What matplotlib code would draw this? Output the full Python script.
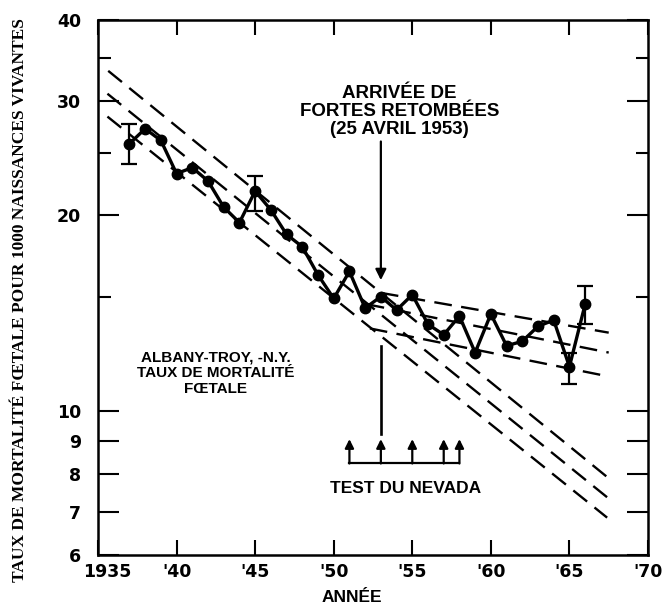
import matplotlib
matplotlib.use('Agg')
from matplotlib import pyplot as plt
from matplotlib.ticker import FixedLocator, NullFormatter, NullLocator
import matplotlib.transforms as mtransforms
import numpy as np

# fetal death rate, Albany-Troy N.Y.
years = [1937, 1938, 1939, 1940, 1941, 1942, 1943, 1944, 1945, 1946,
         1947, 1948, 1949, 1950, 1951, 1952, 1953, 1954, 1955, 1956,
         1957, 1958, 1959, 1960, 1961, 1962, 1963, 1964, 1965, 1966]
rates = [25.8, 27.2, 26.1, 23.2, 23.7, 22.6, 20.6, 19.5, 21.8, 20.4,
         18.7, 17.9, 16.2, 14.9, 16.4, 14.4, 15.0, 14.3, 15.1, 13.6,
         13.1, 14.0, 12.3, 14.1, 12.6, 12.8, 13.5, 13.8, 11.7, 14.6]

err_years = [1937, 1945, 1965, 1966]
err_low = [24.0, 20.3, 11.0, 13.6]
err_high = [27.7, 23.0, 12.3, 15.6]

# trend lines (start, end)
steep_x = [(1935.65, 1967.6), (1935.6, 1967.5), (1935.6, 1967.4)]
steep_y = [(33.4, 7.84), (30.8, 7.33), (28.4, 6.85)]
flat_x = [(1953.0, 1967.5), (1952.1, 1967.5), (1952.3, 1967.5)]
flat_y = [(15.2, 13.2), (14.6, 12.3), (13.4, 11.3)]

nevada_tests = [1951, 1953, 1955, 1957, 1958]

xticks = [1935, 1940, 1945, 1950, 1955, 1960, 1965, 1970]
xlabels = ['1935', "'40", "'45", "'50", "'55", "'60", "'65", "'70"]
yticks = [6, 7, 8, 9, 10, 20, 30, 40]
yminor = [15, 25, 35]

fig = plt.figure(figsize=(6.63, 6.09), dpi=100)
ax = fig.add_axes([98/663, 1-555/609, 550/663, 535/609])
ax.set_yscale('log')
ax.set_xlim(1935, 1970)
ax.set_ylim(6, 40)

dash = (0, (7.5, 4))
for (x0, x1), (y0, y1) in zip(steep_x + flat_x, steep_y + flat_y):
    ax.plot([x0, x1], [y0, y1], color='black', lw=1.7, linestyle=dash)

ax.plot(years, rates, color='black', lw=2.4, marker='o', ms=7.5, zorder=5)

pts = np.array([rates[years.index(y)] for y in err_years])
yerr = [pts - np.array(err_low), np.array(err_high) - pts]
ax.errorbar(err_years, pts, yerr=yerr, fmt='none', ecolor='black',
            elinewidth=1.6, capsize=5.5, capthick=1.6, zorder=4)

# fallout arrow
ax.annotate('', xy=(1953, 15.9), xytext=(1953, 26.0),
            arrowprops=dict(arrowstyle='-|>', color='black', lw=1.6,
                            mutation_scale=16, shrinkA=0, shrinkB=0))
ax.plot([1953, 1953], [12.6, 9.2], color='black', lw=1.9)

# Nevada tests
ax.plot([nevada_tests[0], nevada_tests[-1]], [8.3, 8.3], color='black', lw=1.6)
for t in nevada_tests:
    ax.annotate('', xy=(t, 9.05), xytext=(t, 8.3),
                arrowprops=dict(arrowstyle='-|>', color='black', lw=1.6,
                                mutation_scale=13, shrinkA=0, shrinkB=0))

sans = ['Liberation Sans', 'DejaVu Sans']
ax.text(1954.2, 28.9, 'ARRIVÉE DE\nFORTES RETOMBÉES\n(25 AVRIL 1953)',
        ha='center', va='center', fontsize=13.5, fontweight='bold',
        family=sans, linespacing=1.1)
ax.text(1942.5, 11.42, 'ALBANY-TROY, -N.Y.\nTAUX DE MORTALITÉ\nFŒTALE',
        ha='center', va='center', fontsize=11, fontweight='bold',
        family=sans, linespacing=1.15)
ax.text(1954.6, 7.6, 'TEST DU NEVADA', ha='center', va='center',
        fontsize=12.5, fontweight='bold', family=sans)

ax.xaxis.set_major_locator(FixedLocator(xticks))
ax.set_xticklabels(xlabels)
ax.yaxis.set_major_locator(FixedLocator(yticks))
ax.yaxis.set_minor_locator(FixedLocator(yminor))
ax.yaxis.set_minor_formatter(NullFormatter())
ax.set_yticklabels([str(v) for v in yticks])
ax.xaxis.set_minor_locator(NullLocator())

ax.tick_params(axis='both', which='both', direction='in', top=True, right=True,
               width=1.5, colors='black')
ax.tick_params(axis='y', which='major', length=15, pad=12)
ax.tick_params(axis='y', which='minor', length=9)
ax.tick_params(axis='x', which='major', length=11, pad=6)
for lab in ax.get_xticklabels() + ax.get_yticklabels():
    lab.set_fontweight('bold')
    lab.set_fontsize(12.5)
first = ax.get_xticklabels()[0]
first.set_transform(first.get_transform() +
                    mtransforms.ScaledTranslation(9/100, 0, fig.dpi_scale_trans))
for s in ax.spines.values():
    s.set_linewidth(1.8)

fig.text(352/663, 1-598/609, 'ANNÉE', ha='center', va='center',
         fontsize=12.5, fontweight='bold', family=sans)
fig.text(20/663, 1-300/609, 'TAUX DE MORTALITÉ FŒTALE POUR 1000 NAISSANCES VIVANTES',
         rotation=90, ha='center', va='center', fontsize=12.5, fontweight='bold',
         family=['Liberation Serif', 'DejaVu Serif'])

fig.savefig('out.png', dpi=100)
